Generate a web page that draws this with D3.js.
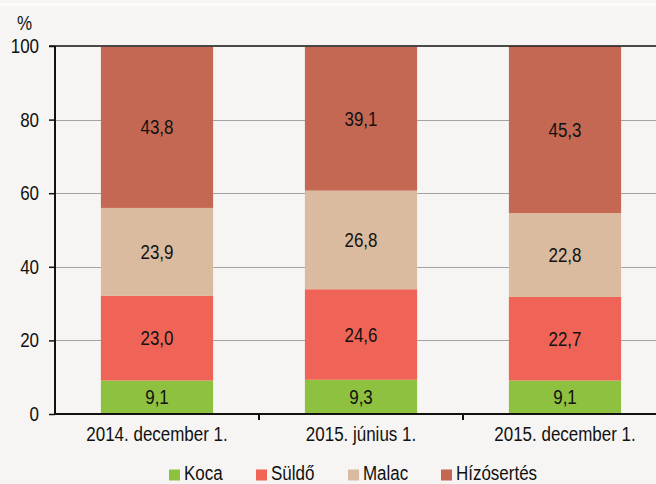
<!DOCTYPE html>
<html><head><meta charset="utf-8">
<script src="https://cdn.jsdelivr.net/npm/d3@7"></script>
<style>
html,body{margin:0;padding:0;background:#f6f5f3;}
svg{display:block;}
text{font-family:"Liberation Sans",Arial,sans-serif;fill:#111;}
</style></head>
<body>
<script>
const categories = ["2014. december 1.", "2015. június 1.", "2015. december 1."];
const seriesNames = ["Koca", "Süldő", "Malac", "Hízósertés"];
const koca = [9.1, 9.3, 9.1];
const suldo = [23.0, 24.6, 22.7];
const malac = [23.9, 26.8, 22.8];
const hizo = [43.8, 39.1, 45.3];
const yTicks = [0, 20, 40, 60, 80, 100];
const colors = ["#8ec13f", "#ef6456", "#dbbb9f", "#c56853"];

(function () {
const W = 656, H = 484;
const FS = 19.5, SX = 0.87;
const svg = d3.select("body").append("svg").attr("width", W).attr("height", H);
svg.append("rect").attr("width", W).attr("height", H).attr("fill", "#f6f5f3");
svg.append("line").attr("x1", 0).attr("x2", W).attr("y1", 4.5).attr("y2", 4.5).attr("stroke", "#fff").attr("stroke-width", 2);

function label(sel, fx, fy, anchor) {
  return sel.attr("transform", (d, i) => `translate(${fx(d, i)},${fy(d, i)}) scale(${SX},1)`)
    .attr("text-anchor", anchor).attr("font-size", FS);
}

const mLeft = 55, mRight = 667, mTop = 46, mBottom = 414;
const x = d3.scaleBand().domain(categories).range([mLeft, mRight]).paddingInner(0.45).paddingOuter(0.225);
const xOuter = d3.scaleBand().domain(categories).range([mLeft, mRight]);
const y = d3.scaleLinear().domain([0, 100]).range([mBottom, mTop]);

// gridlines
svg.append("g").selectAll("line").data(yTicks.filter(d => d > 0 && d < 100)).join("line")
  .attr("x1", mLeft).attr("x2", W).attr("y1", d => Math.round(y(d)) + 0.5).attr("y2", d => Math.round(y(d)) + 0.5)
  .attr("stroke", "#a3a3a3").attr("stroke-width", 1.2);

const rows = categories.map((c, i) => ({cat: c, Koca: koca[i], "Süldő": suldo[i], Malac: malac[i], "Hízósertés": hizo[i]}));
const stack = d3.stack().keys(seriesNames)(rows);

const g = svg.append("g");
stack.forEach((layer, li) => {
  g.append("g").selectAll("rect").data(layer).join("rect")
    .attr("x", d => x(d.data.cat)).attr("width", x.bandwidth())
    .attr("y", d => y(d[1])).attr("height", d => y(d[0]) - y(d[1]))
    .attr("fill", colors[li]);
  label(g.append("g").selectAll("text").data(layer).join("text"),
    d => x(d.data.cat) + x.bandwidth() / 2,
    d => (y(d[0]) + y(d[1])) / 2 + 7, "middle")
    .text(d => d3.format(".1f")(d[1] - d[0]).replace(".", ","));
});

// top line at 100
svg.append("line").attr("x1", mLeft - 6).attr("x2", W).attr("y1", y(100)).attr("y2", y(100)).attr("stroke", "#111").attr("stroke-width", 1.5);

// y axis
const yAxis = svg.append("g").attr("transform", `translate(${mLeft},0)`)
  .call(d3.axisLeft(y).tickValues(yTicks).tickSize(6).tickFormat(""));
yAxis.select(".domain").attr("stroke", "#111").attr("stroke-width", 2).attr("d", `M0,${mTop}V${mBottom}`);
yAxis.selectAll(".tick line").attr("stroke", "#111").attr("stroke-width", 1.5);
label(svg.append("g").selectAll("text").data(yTicks).join("text"),
  d => 39, d => y(d) + 7, "end").text(d => d);

// x axis
svg.append("line").attr("x1", mLeft).attr("x2", W).attr("y1", mBottom).attr("y2", mBottom).attr("stroke", "#111").attr("stroke-width", 2);
svg.append("g").selectAll("line").data(categories.slice(1)).join("line")
  .attr("x1", d => xOuter(d)).attr("x2", d => xOuter(d)).attr("y1", mBottom).attr("y2", mBottom + 6)
  .attr("stroke", "#111").attr("stroke-width", 2);
label(svg.append("g").selectAll("text").data(categories).join("text"),
  d => x(d) + x.bandwidth() / 2, d => 441, "middle").text(d => d);

// % label
label(svg.append("text").datum("%"), d => 17, d => 30, "start").text("%");

// legend
const legendX = [169, 256, 348, 441];
const lg = svg.append("g");
lg.selectAll("rect").data(seriesNames).join("rect")
  .attr("x", (d, i) => legendX[i]).attr("y", 469.5).attr("width", 11).attr("height", 11)
  .attr("fill", (d, i) => colors[i]);
label(lg.selectAll("text").data(seriesNames).join("text"),
  (d, i) => legendX[i] + 15, d => 479.5, "start").text(d => d);
})();
</script>
</body></html>
